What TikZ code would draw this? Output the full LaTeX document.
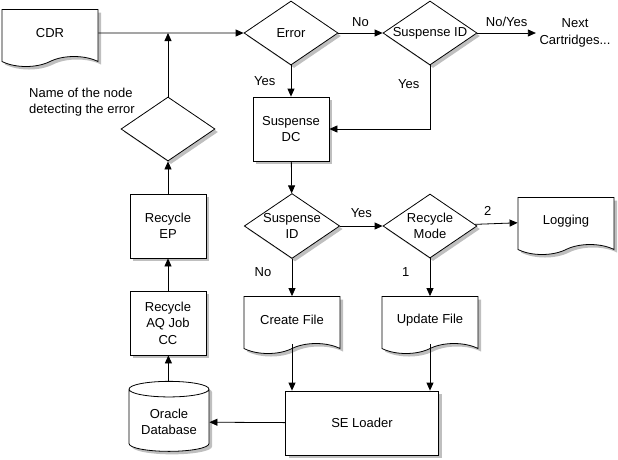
\documentclass[tikz,border=0pt]{standalone}
\usepackage{fontspec}
\setmainfont{Liberation Sans}
\usetikzlibrary{arrows.meta}
\usetikzlibrary{shapes.geometric}
\usetikzlibrary{shapes.symbols}
\usetikzlibrary{shadows}

\begin{document}
\begin{tikzpicture}[
    x=1pt, y=-1pt,
    font=\fontsize{13}{16.5}\selectfont,
    line width=0.8pt,
    >={Triangle[length=8pt,width=7pt]},
    shadowed/.style={drop shadow={shadow xshift=3pt, shadow yshift=-3pt, fill=black!25, opacity=1}},
    process/.style={rectangle, draw, fill=white, minimum width=76pt, minimum height=64pt, shadowed},
    decision/.style={diamond, aspect=1.47, draw, fill=white, minimum width=94pt, minimum height=64pt, inner sep=0pt, align=center, shadowed},
    docshape/.style={tape, tape bend top=none, tape bend bottom=in and out, tape bend height=10pt, draw, fill=white, minimum width=96pt, minimum height=57pt, shadowed},
    database/.style={cylinder, shape border rotate=90, aspect=0.25, draw, fill=white, minimum width=80pt, minimum height=70pt, align=center, shadowed},
    tag/.style={align=center}
]
    \useasboundingbox (0,0) rectangle (618,459);

    % Nodes
    \node[docshape] (cdr) at (50,33) {CDR};
    \node[decision] (error) at (291,33) {Error};
    \node[decision] (sid) at (430,33) {Suspense ID};
    \node[tag] (next) at (575,33) {Next\\Cartridges...};
    \node[process, align=center] (dc) at (291,129) {Suspense\\DC};
    \node[decision] (check) at (168,129) {};
    \node[tag, align=left] (note) at (82,102) {Name of the node\\detecting the error};
    \node[process, align=center] (ep) at (168,226) {Recycle\\EP};
    \node[process, align=center] (aq) at (168,323) {Recycle\\AQ Job\\CC};
    \node[database] (db) at (169,422) {Oracle\\Database};
    \node[decision] (sid2) at (292,226) {Suspense\\ID};
    \node[decision] (mode) at (430,226) {Recycle\\Mode};
    \node[docshape] (log) at (566,221) {Logging};
    \node[docshape] (create) at (292,320) {Create File};
    \node[docshape] (update) at (430,320) {Update File};
    \node[process, minimum width=153pt] (loader) at (362,423) {SE Loader};
    \coordinate (join) at (168,33);

    % Edges
    \draw[->] (cdr) -- (error);
    \draw[->] (check) -- (join);
    \draw[->] (error) -- node[above=3pt] {No} (sid);
    \draw[->] (sid) -- node[above=3pt] {No/Yes} (next);
    \draw[->] (error) -- node[left=12pt] {Yes} (dc);
    \draw[->] (sid.south) |- node[pos=0.15, left=7pt] {Yes} (dc.east);
    \draw[->] (dc) -- (sid2);
    \draw[->] (sid2) -- node[above=5pt] {Yes} (mode);
    \draw[->] (mode) -- node[pos=0.3, above=5pt] {2} (log);
    \draw[->] (sid2) -- node[pos=0.35, left=17pt] {No} (create);
    \draw[->] (mode) -- node[pos=0.35, left=17pt] {1} (update);
    \draw[->] (create.south) -- (create.south |- loader.north);
    \draw[->] (update.south) -- (update.south |- loader.north);
    \draw[->] (loader) -- (db);
    \draw[->] (db) -- (aq);
    \draw[->] (aq) -- (ep);
    \draw[->] (ep) -- (check);
\end{tikzpicture}
\end{document}
